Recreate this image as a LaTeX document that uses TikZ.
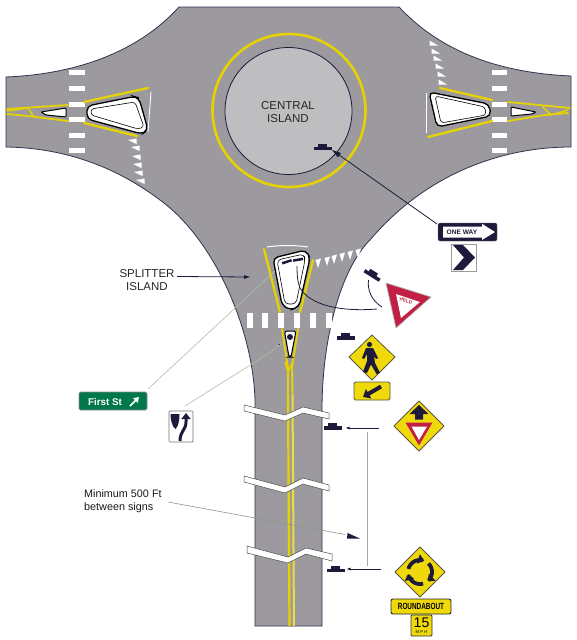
\documentclass[tikz,border=0pt]{standalone}
\usepackage{fontspec}
\setmainfont{Liberation Sans}
\usetikzlibrary{arrows.meta,calc}
\definecolor{roadgrey}{HTML}{9C9A9F}
\definecolor{islandgrey}{HTML}{BEBDBF}
\definecolor{lineyellow}{HTML}{E6D200}
\definecolor{signyellow}{HTML}{EFD90A}
\definecolor{navy}{HTML}{1E1A3C}
\definecolor{signred}{HTML}{C21F45}
\definecolor{signgreen}{HTML}{00784A}
\definecolor{leader}{HTML}{A9C4A4}
\tikzset{
  x=1pt,y=-1pt,
  yell/.style={draw=lineyellow,line width=2.3pt,line cap=round,line join=round},
  isl/.style={draw=black,line width=1.3pt,fill=white,rounded corners=3pt},
  thinisl/.style={draw=black,line width=1pt,fill=white,rounded corners=2.5pt},
  bar/.style={fill=white},
  tick/.style={fill=white},
  labeltext/.style={font=\fontsize{11.5}{13.5}\selectfont,text=black!85,align=center,inner sep=0pt},
  smalltext/.style={font=\fontsize{10.8}{12.5}\selectfont,text=black!90,align=left,inner sep=0pt,anchor=north west},
  darkarrow/.style={draw=navy,line width=.8pt,-{Triangle[length=9pt,width=5pt,fill=navy]}},
  leaderline/.style={draw=leader,line width=.6pt},
  signedge/.style={draw=black!75!yellow,line width=.8pt},
  breakmark/.style={fill=white,draw=black!70,line width=.5pt,line join=miter},
  holder/.pic={
    \fill[navy] (-9,0) rectangle (9,3.5);
    \fill[navy] (-5,-3) rectangle (4,0.2);
  }
}
\begin{document}
\begin{tikzpicture}
\useasboundingbox (0,0) rectangle (576,640);
\fill[white] (0,0) rectangle (576,640);
% road
\draw[fill=roadgrey,draw=navy!90,line width=.8pt,line join=round]
  (179,7) -- (399,7) .. controls (430,40) and (480,72) .. (571,76)
  -- (571,147) .. controls (500,147) and (425,175) .. (370,240)
  .. controls (340,270) and (322,340) .. (322,410)
  -- (322,626) -- (255,626) -- (255,400)
  .. controls (253,330) and (215,240) .. (160,200)
  .. controls (120,170) and (70,148) .. (6,147)
  -- (6,77) .. controls (80,74) and (140,50) .. (179,7) -- cycle;
% central island
\draw[lineyellow,line width=2.6pt] (289,110.5) circle[radius=76.5pt];
\draw[fill=islandgrey,draw=navy,line width=.8pt] (288.5,111) circle[radius=63.5pt];
\node[labeltext] (central) at (288,112) {CENTRAL\\ISLAND};
% crosswalks
\foreach \yy in {70,86,102,117,133,148}{
  \fill[bar] (69,\yy) rectangle (85,\yy+5);
  \fill[bar] (492,\yy) rectangle (507,\yy+5);
}
\foreach \xx in {247,262,278,294,310,326}{
  \fill[bar] (\xx,313) rectangle (\xx+6,328);
}
% left splitter
\draw[yell] (84,102) -- (148,88);
\draw[yell] (84,123) -- (137,136);
\draw[white,line width=.9pt] (151,92) -- (148,132);
\draw[isl,rounded corners=5pt] (87,106) -- (134,96.5) -- (139,98) -- (148,130) -- (142,134) -- (87,119) -- cycle;
\draw[draw=black,line width=.6pt,fill=white,rounded corners=3pt] (91,109) -- (135,102) -- (144,127) -- (138,129) -- (91,115) -- cycle;
\draw[yell,line width=1.8pt] (7,109) -- (68,105);
\draw[yell,line width=1.8pt] (7,114) -- (28,116) -- (68,121);
\draw[yell,line width=1.5pt] (7,111) -- (28,108) -- (34,117);
\draw[thinisl,rounded corners=1pt] (41,112) -- (66,108) -- (66,117) -- (46,115) -- cycle;
% right splitter
\draw[yell] (492,100) -- (440,88);
\draw[yell] (492,121) -- (428,137);
\draw[white,line width=.9pt] (426,93) -- (426,133);
\draw[isl,rounded corners=5pt] (429,92) -- (489,104) -- (491,116) -- (437,127) -- cycle;
\draw[draw=black,line width=.6pt,fill=white,rounded corners=3pt] (435,96) -- (485,107) -- (486,115) -- (441,123) -- cycle;
\draw[yell,line width=1.8pt] (508,102) -- (570,108);
\draw[yell,line width=1.8pt] (508,121) -- (545,115) -- (568,113);
\draw[yell,line width=1.5pt] (543,107) -- (551,115) -- (568,110);
\draw[thinisl,rounded corners=1pt] (511,107) -- (536,112) -- (532,114) -- (511,116) -- cycle;
% bottom splitter
\draw[yell] (264,249) -- (280,312);
\draw[yell] (313,260) -- (300,312);
\draw[white,line width=1pt] (267,247) .. controls (280,245) and (295,245) .. (308,247);
\draw[isl,rounded corners=5pt] (273,258) -- (306,250) -- (310,258) -- (299,307) -- (290,310) -- (282,305) -- cycle;
\draw[draw=black,line width=.6pt,fill=white,rounded corners=4pt] (277,260) -- (304,254) -- (305,260) -- (296,304) -- (285,304) -- cycle;
\fill[navy,rotate around={18:(287,262)}] (282,260.5) rectangle (292,263);
\fill[navy,rotate around={10:(298,259.5)}] (293,258.5) rectangle (303,261);
% bottom small island and double centre line
\draw[yell,line width=1.9pt] (282,329) -- (288,368) -- (288,395);
\draw[yell,line width=1.9pt] (298,329) -- (292,367) -- (292.5,395);
\draw[yell,line width=1.5pt] (285,362) -- (288,372) -- (292,363);
\draw[thinisl] (284.5,331) -- (296,331) -- (291,357) -- (289,357) -- cycle;
\fill[navy] (290,337) circle[radius=3pt];
\draw[draw=lineyellow,line width=2.2pt] (288,395) -- (289.5,626);
\draw[draw=lineyellow!75!white,line width=2pt] (292.5,395) -- (294,626);
% yield ticks
\foreach \a/\b in {133/141,136/148,137/157,138/165,139/173,141/181}{
  \fill[tick] (\a-5,\b-1) -- (\a+3.5,\b-2.5) -- (\a+3.5,\b+3) -- cycle;
}
\foreach \a/\b in {433/43,435/51,437/58,439/66,441/74,442/82}{
  \fill[tick] (\a-3.5,\b-2.5) -- (\a+5,\b+2.5) -- (\a-3.5,\b+2.5) -- cycle;
}
\foreach \a/\b in {318/263,327/261,334/259,342/257,350/255,358/253}{
  \fill[tick] (\a-2.5,\b-3) -- (\a+3,\b-4.5) -- (\a,\b+5) -- cycle;
}
% road breaks
\draw[breakmark] (244,405) -- (285,415) -- (303,407) -- (329,413) -- (329,419) -- (303,413) -- (285,421) -- (244,411) -- cycle;
\draw[breakmark] (244,476) -- (285,487) -- (303,478) -- (329,485) -- (329,491) -- (303,484) -- (285,493) -- (244,482) -- cycle;
\draw[breakmark] (247,546) -- (288,557) -- (306,548) -- (332,554) -- (332,561) -- (306,554) -- (288,563) -- (247,553) -- cycle;
% sign holders
\pic at (323,146.5) {holder};
\pic[rotate=-32] at (373,274) {holder};
\pic at (346,336) {holder};
\pic at (333,426) {holder};
\pic at (336,568.5) {holder};
% anchor coordinates
\coordinate (holderOne) at (332,150);
\coordinate (oneFrom) at (437,224);
\coordinate (splitEnd) at (250,277);
\coordinate (holderAhead) at (346,428);
\coordinate (fromAhead) at (379,428);
\coordinate (holderRound) at (347,569);
\coordinate (fromRound) at (381,569);
\coordinate (firstEnd) at (275,271);
\coordinate (keepEnd) at (282,342);
% one way sign
\node[draw=black!60,fill=navy,minimum width=59pt,minimum height=18pt,inner sep=0pt,rounded corners=1.5pt] (oneway) at (467.5,232) {};
\fill[white] (443,226.5) -- (482,226.5) -- (482,223.8) -- (495,232) -- (482,240) -- (482,237.5) -- (443,237.5) -- cycle;
\node[font=\bfseries\fontsize{6.6}{7}\selectfont,text=navy,inner sep=0pt] (onewaytext) at (462,232) {ONE WAY};
\node[draw=black!40,fill=white,minimum width=25pt,minimum height=27pt,inner sep=0pt] (chevronsign) at (463.5,257.5) {};
\fill[navy] (453,245) -- (463,245) -- (475,257.5) -- (463,270) -- (453,270) -- (464,257.5) -- cycle;
\draw[darkarrow] (oneFrom) -- (holderOne);
% yield sign
\draw[fill=signred,draw=black!30,line width=.7pt,line join=round] (386,283) -- (431,297) -- (396,328) -- cycle;
\fill[white] (396,294) -- (420,302) -- (401,318) -- cycle;
\node[font=\bfseries\fontsize{4.6}{5}\selectfont,text=signred,rotate=-17,inner sep=0pt] (yieldtext) at (405.5,300.5) {YIELD};
\draw[navy,line width=.8pt] (377,309) .. controls (340,312) and (310,305) .. (300,288) .. controls (297,280) and (297,272) .. (297,266);
\draw[navy,line width=.8pt] (368.5,280) .. controls (367,290) and (372,301) .. (382,307);
% pedestrian sign
\draw[fill=signyellow,signedge,line join=round] (372,335) -- (395,357) -- (372,380) -- (349,357) -- cycle;
\fill[navy] (369.5,344.5) circle[radius=2.6pt];
\fill[navy,line join=round] (366,348) -- (373,348) -- (378,358) -- (376,359) -- (374,356) -- (375,363) -- (380,373) -- (376.5,374) -- (371,364.5) -- (367,373) -- (363,372) -- (367,361) -- (367,354) -- (364,359) -- (362,358) -- cycle;
\draw[fill=signyellow,signedge,rounded corners=1.5pt] (354,382) rectangle (390,400);
\draw[navy,line width=4pt,-{Triangle[length=6.5pt,width=10.5pt]}] (381,386.5) -- (363,397);
% yield ahead sign
\draw[fill=signyellow,signedge,line join=round] (419,401) -- (444,426) -- (419,451) -- (394,426) -- cycle;
\fill[navy] (419,405) -- (428.5,414) -- (423,414) -- (423,419.5) -- (415,419.5) -- (415,414) -- (409.5,414) -- cycle;
\fill[signred] (405.5,422.5) -- (432.5,422.5) -- (419,445.5) -- cycle;
\fill[white] (411.5,426.5) -- (427,426.5) -- (419,440) -- cycle;
% roundabout sign
\draw[fill=signyellow,signedge,line join=round] (420,547) -- (445,572) -- (420,597) -- (395,572) -- cycle;
\foreach \st/\en in {-165/-70,-45/50,75/170}{
  \draw[navy,line width=3.8pt,-{Triangle[length=6pt,width=9.5pt]}] plot[domain=\st:\en,samples=14,smooth] ({420+12*cos(\x)},{572+12*sin(\x)});
}
\draw[fill=signyellow,draw=black!85,line width=.9pt,rounded corners=2pt] (391,599) rectangle (451,614);
\node[font=\bfseries\fontsize{6.4}{7}\selectfont,text=black,yscale=1.4,inner sep=0pt] (roundabouttext) at (421,606.7) {ROUNDABOUT};
\draw[fill=signyellow,draw=black!80,line width=.8pt,rounded corners=1pt] (411,615) rectangle (432,636);
\node[font=\fontsize{14}{14}\selectfont,text=black,inner sep=0pt] (speedtext) at (421.5,623) {15};
\node[font=\fontsize{4.2}{5}\selectfont,text=black,inner sep=0pt] (mphtext) at (421.5,632.5) {M P H};
% connectors at right
\draw[draw=navy,line width=.7pt,-{Triangle[length=3.5pt,width=2.5pt]}] (fromAhead) -- (holderAhead);
\draw[draw=navy,line width=.7pt,-{Triangle[length=3.5pt,width=2.5pt]}] (fromRound) -- (holderRound);
\coordinate (vTop) at (367,432);
\coordinate (vBot) at (367,566);
\draw[black!35,line width=.6pt] (vTop) -- (vBot);
% splitter label
\node[labeltext] (splitter) at (147,280) {SPLITTER\\ISLAND};
\draw[darkarrow,-{Triangle[length=6pt,width=3.5pt,fill=navy]}] (177,276.5) -- (splitEnd);
% first st
\node[draw=black!45,fill=signgreen,minimum width=68pt,minimum height=18pt,inner sep=0pt,rounded corners=1.5pt,line width=.8pt] (firstst) at (113,401) {};
\node[font=\bfseries\fontsize{9.8}{11}\selectfont,text=white,inner sep=0pt] (firsttext) at (105,401.5) {First St};
\draw[white,line width=1.7pt,-{Triangle[length=5pt,width=6.5pt]}] (130,406) -- (139,397);
\draw[leaderline] (148,389) -- (firstEnd);
% keep right sign
\node[draw=black!55,fill=white,minimum width=24pt,minimum height=31pt,inner sep=0pt,rounded corners=1pt,line width=.7pt] (keepright) at (181,426.5) {};
\fill[navy] (170.5,414) -- (179.5,414) .. controls (179.5,421) and (178,427) .. (175.5,429) .. controls (172.5,427) and (170.5,421) .. (170.5,414) -- cycle;
\draw[navy,line width=3pt,-{Triangle[length=6pt,width=9pt]}] (180,441) .. controls (180,431) and (186,430) .. (186,422) -- (186,413);
\draw[leaderline] (185,406) -- (271,352);
\draw[leaderline,-{Triangle[length=5pt,width=3.5pt,fill=navy]}] (271,352) -- (keepEnd);
% minimum label
\node[smalltext] (minimum) at (84,489.5) {Minimum 500 Ft\\between signs};
\draw[leaderline,draw=leader!80!black] (168,502) -- (345,534.5);
\fill[navy] (347.5,533) -- (360,538.5) -- (347,538.5) -- cycle;
\end{tikzpicture}
\end{document}
